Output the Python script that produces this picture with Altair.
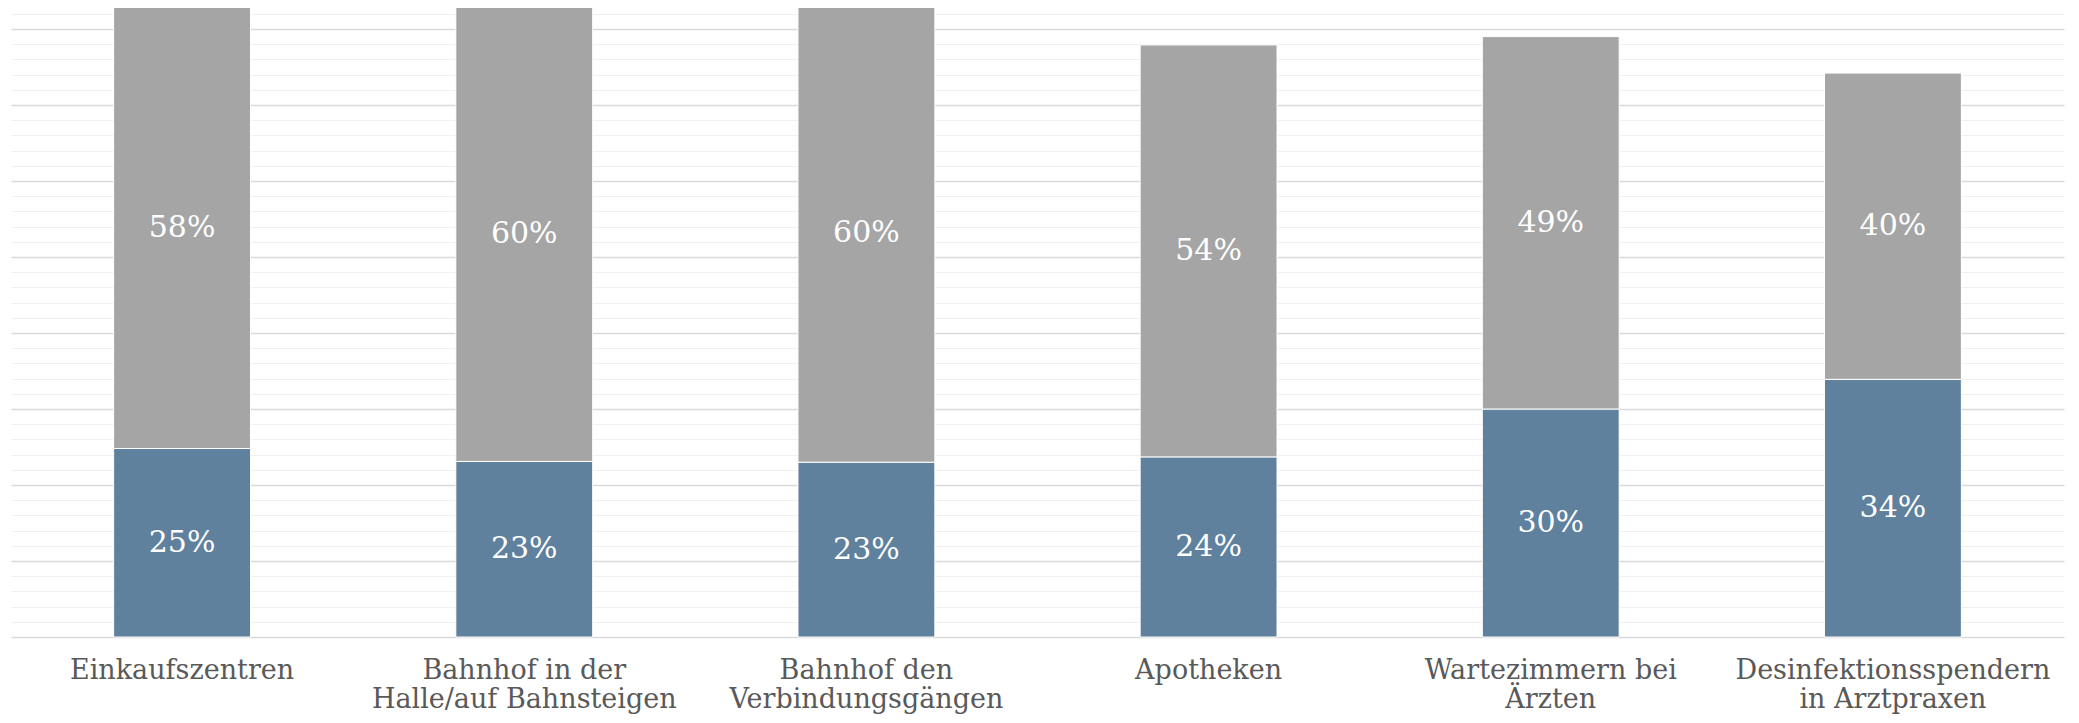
import altair as alt
import pandas as pd

categories = [
    "Einkaufszentren",
    "Bahnhof in der|Halle/auf Bahnsteigen",
    "Bahnhof den|Verbindungsgängen",
    "Apotheken",
    "Wartezimmern bei|Ärzten",
    "Desinfektionsspendern|in Arztpraxen",
]
blue_values = [0.248, 0.231, 0.230, 0.237, 0.300, 0.339]
gray_values = [0.581, 0.598, 0.603, 0.542, 0.490, 0.403]
series = ["Blau", "Grau"]
series_colors = ["#5F819E", "#A5A5A5"]
grid_values = [0.00, 0.02, 0.04, 0.06, 0.08, 0.10, 0.12, 0.14, 0.16, 0.18,
               0.20, 0.22, 0.24, 0.26, 0.28, 0.30, 0.32, 0.34, 0.36, 0.38,
               0.40, 0.42, 0.44, 0.46, 0.48, 0.50, 0.52, 0.54, 0.56, 0.58,
               0.60, 0.62, 0.64, 0.66, 0.68, 0.70, 0.72, 0.74, 0.76, 0.78,
               0.80, 0.82]

rows = []
for c, b, g in zip(categories, blue_values, gray_values):
    rows.append({"cat": c, "series": series[0], "start": 0.0, "end": b,
                 "mid": b / 2, "value": b})
    rows.append({"cat": c, "series": series[1], "start": b, "end": b + g,
                 "mid": b + g / 2, "value": g})
df = pd.DataFrame(rows)

FONT = "DejaVu Serif"

x_scale = alt.Scale(paddingInner=0.6, paddingOuter=0.3)
y_scale = alt.Scale(domain=[0, 629 / 760], nice=False, zero=True)

x_axis = alt.Axis(
    title=None,
    labelAngle=0,
    domain=False,
    ticks=False,
    tickSize=0,
    labelFont=FONT,
    labelFontSize=27,
    labelColor="#595959",
    labelLineHeight=29.5,
    labelPadding=20,
    labelBaseline="top",
    labelLimit=0,
    labelExpr="split(datum.label, '|')",
)
y_axis = alt.Axis(
    title=None,
    labels=False,
    ticks=False,
    domain=False,
    values=grid_values,
    gridColor={
        "condition": {"test": "round(datum.value*50) % 5 === 0", "value": "#D9D9D9"},
        "value": "#F0F0F0",
    },
    gridWidth={
        "condition": {"test": "round(datum.value*50) % 5 === 0", "value": 1.4},
        "value": 1.2,
    },
)

bars = alt.Chart(df).mark_bar(stroke="white", strokeWidth=1).encode(
    x=alt.X("cat:N", sort=categories, scale=x_scale, axis=x_axis),
    y=alt.Y("start:Q", scale=y_scale, axis=y_axis),
    y2="end:Q",
    color=alt.Color("series:N", scale=alt.Scale(domain=series, range=series_colors), legend=None),
)

labels = alt.Chart(df).mark_text(
    font=FONT, fontSize=30, color="white", baseline="middle", align="center"
).encode(
    x=alt.X("cat:N", sort=categories, scale=x_scale, axis=x_axis),
    y=alt.Y("mid:Q", scale=y_scale, axis=y_axis),
    text=alt.Text("value:Q", format=".0%"),
)

chart = (
    alt.layer(bars, labels)
    .properties(
        width=2053,
        height=629,
        background="white",
        autosize=alt.AutoSizeParams(type="none"),
        padding={"left": 3, "top": 0, "right": 7, "bottom": 78},
    )
    .configure_view(strokeWidth=0, stroke="transparent")
)

chart.save("out.html", embed_options={"renderer": "svg", "actions": False})
